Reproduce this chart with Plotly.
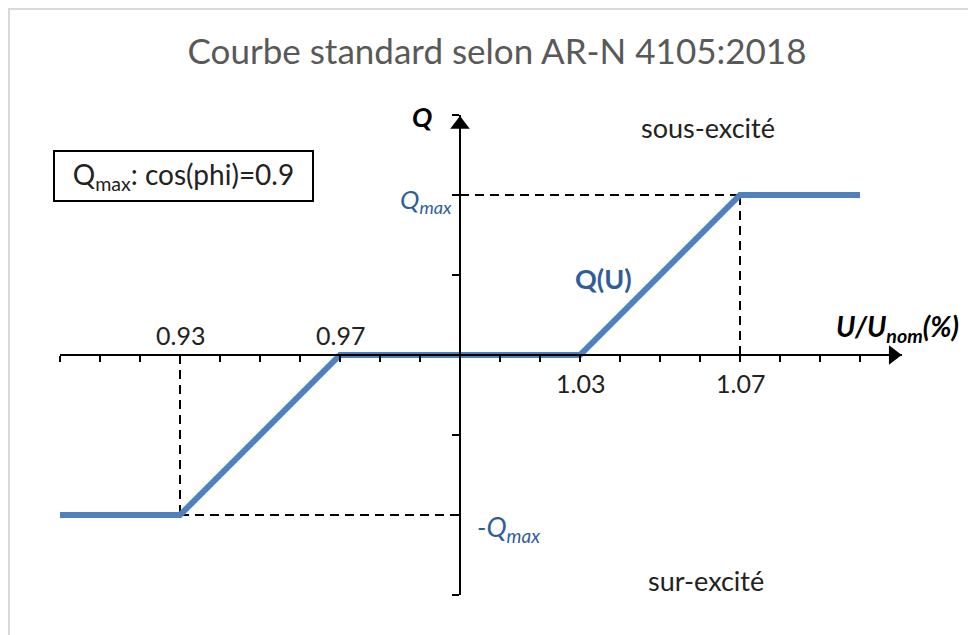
import plotly.graph_objects as go

# ---- data ----
u_curve = [0.90, 0.93, 0.97, 1.03, 1.07, 1.10]      # U/Unom
q_curve = [-1.0, -1.0, 0.0, 0.0, 1.0, 1.0]            # Q in units of Qmax
x_ticks = [round(0.90 + 0.01 * i, 2) for i in range(21)]
y_ticks = [-1.5, -1.0, -0.5, 0.0, 0.5, 1.0, 1.5]
u_labels_above = [0.93, 0.97]
u_labels_below = [1.03, 1.07]
q_max = 1.0

# page body has an 8px margin: figure occupies window pixels 8..976 / 8..635
OFF = 8
W, H = 976 - OFF, 635 - OFF
BLUE = "#4F81BD"
TXT_BLUE = "#2F5D9B"
FONT = "Lato"


def px(x):
    return (x - OFF) / W


def py(y):
    return 1 - (y - OFF) / H


fig = go.Figure()

# reference dashed lines
dash = dict(color="black", width=2, dash="9px,6px")
fig.add_trace(go.Scatter(x=[0.93, 0.93], y=[0, -q_max], mode="lines", line=dash, hoverinfo="skip"))
fig.add_trace(go.Scatter(x=[0.93, 1.0], y=[-q_max, -q_max], mode="lines", line=dash, hoverinfo="skip"))
fig.add_trace(go.Scatter(x=[1.07, 1.07], y=[0, q_max], mode="lines", line=dash, hoverinfo="skip"))
fig.add_trace(go.Scatter(x=[1.0, 1.07], y=[q_max, q_max], mode="lines", line=dash, hoverinfo="skip"))

# Q(U) curve
fig.add_trace(go.Scatter(x=u_curve, y=q_curve, mode="lines",
                         line=dict(color=BLUE, width=6), cliponaxis=False))

# arrow heads
fig.add_trace(go.Scatter(x=[1.1083], y=[0], mode="markers", cliponaxis=False,
                         marker=dict(symbol="triangle-right", size=17, color="black")))
fig.add_trace(go.Scatter(x=[1.0], y=[1.44], mode="markers", cliponaxis=False,
                         marker=dict(symbol="triangle-up", size=17, color="black")))

TICKF = dict(family=FONT, size=25, color="#222")
LBLF = 27
ann = []
for v in u_labels_above:
    ann.append(dict(x=v, y=0, xref="x", yref="y", text=f"{v:.2f}", showarrow=False,
                    xanchor="center", yshift=20, font=TICKF))
for v in u_labels_below:
    ann.append(dict(x=v, y=0, xref="x", yref="y", text=f"{v:.2f}", showarrow=False,
                    xanchor="center", yshift=-28, font=TICKF))

ann += [
    dict(x=px(454), y=py(200), xref="paper", yref="paper", xanchor="right", yanchor="middle",
         text="<i>Q<sub>max</sub></i>", showarrow=False,
         font=dict(family=FONT, size=26, color=TXT_BLUE)),
    dict(x=px(475), y=py(528), xref="paper", yref="paper", xanchor="left", yanchor="middle",
         text="<i>-Q<sub>max</sub></i>", showarrow=False,
         font=dict(family=FONT, size=27, color=TXT_BLUE)),
    dict(x=px(422), y=py(116), xref="paper", yref="paper", xanchor="center", yanchor="middle",
         text="<b><i>Q</i></b>", showarrow=False,
         font=dict(family=FONT, size=27, color="black")),
    dict(x=px(961), y=py(328), xref="paper", yref="paper", xanchor="right", yanchor="middle",
         text="<b><i>U/U<sub>nom</sub>(%)</i></b>", showarrow=False,
         font=dict(family=FONT, size=28, color="black")),
    dict(x=px(708), y=py(127), xref="paper", yref="paper", xanchor="center", yanchor="middle",
         text="sous-excité", showarrow=False,
         font=dict(family=FONT, size=LBLF, color="#222")),
    dict(x=px(706), y=py(580), xref="paper", yref="paper", xanchor="center", yanchor="middle",
         text="sur-excité", showarrow=False,
         font=dict(family=FONT, size=LBLF, color="#222")),
    dict(x=px(603), y=py(278), xref="paper", yref="paper", xanchor="center", yanchor="middle",
         text="<b>Q(U)</b>", showarrow=False,
         font=dict(family=FONT, size=27, color=TXT_BLUE)),
    dict(x=px(183), y=py(176), xref="paper", yref="paper", xanchor="center", yanchor="middle",
         text="Q<sub>max</sub>: cos(phi)=0.9", showarrow=False,
         width=257, height=48, borderpad=0, bordercolor="black", borderwidth=2,
         bgcolor="white", font=dict(family=FONT, size=28, color="#222")),
]

shapes = [
    dict(type="line", xref="paper", yref="paper", x0=0, x1=1, y0=py(9), y1=py(9),
         line=dict(color="#d9d9d9", width=2)),
    dict(type="line", xref="paper", yref="paper", x0=px(9), x1=px(9), y0=0, y1=py(9),
         line=dict(color="#d9d9d9", width=2)),
]

fig.update_layout(
    width=W, height=H,
    margin=dict(l=0, r=0, t=0, b=0),
    paper_bgcolor="white", plot_bgcolor="white",
    showlegend=False,
    title=dict(text="Courbe standard selon AR-N 4105:2018", x=px(497), y=py(52),
               xanchor="center", yanchor="middle",
               font=dict(family=FONT, size=35, color="#595959")),
    xaxis=dict(domain=[px(60), px(902)], range=[0.90, 0.90 + (902 - 60) / 4000],
               anchor="free", position=py(355),
               showline=True, linecolor="black", linewidth=2,
               ticks="outside", ticklen=6, tickwidth=2, tickcolor="black",
               tickvals=x_ticks, showticklabels=False,
               showgrid=False, zeroline=False, fixedrange=True),
    yaxis=dict(domain=[py(595), py(115)], range=[-1.5, 1.5],
               anchor="free", position=px(460),
               showline=True, linecolor="black", linewidth=2,
               ticks="outside", ticklen=7, tickwidth=2, tickcolor="black",
               tickvals=y_ticks, showticklabels=False,
               showgrid=False, zeroline=False, fixedrange=True),
    annotations=ann,
    shapes=shapes,
)

fig.write_html("out.html")
